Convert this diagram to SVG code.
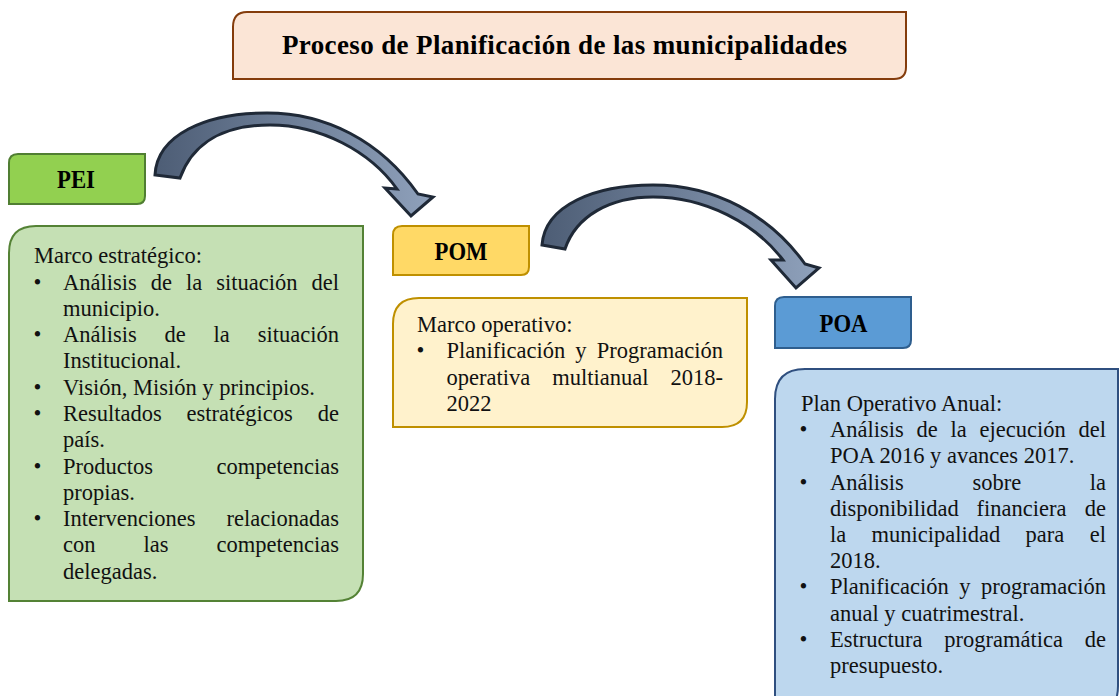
<svg xmlns="http://www.w3.org/2000/svg" width="1119" height="696" viewBox="0 0 1119 696">
<defs>
<style>
.b{font-family:"Liberation Serif","Times New Roman",serif;font-size:22.5px;fill:#111}
.h{font-family:"Liberation Serif","Times New Roman",serif;font-weight:bold;fill:#000}
.e{text-anchor:end}
.arrow{stroke:#1f2937;stroke-width:3;stroke-linejoin:miter}
</style>
<linearGradient id="ag1" gradientUnits="userSpaceOnUse" x1="155" y1="0" x2="432" y2="0">
<stop offset="0" stop-color="#4d5d75"/><stop offset="1" stop-color="#8fa1bb"/>
</linearGradient>
<linearGradient id="ag2" gradientUnits="userSpaceOnUse" x1="542" y1="0" x2="818" y2="0">
<stop offset="0" stop-color="#4d5d75"/><stop offset="1" stop-color="#8fa1bb"/>
</linearGradient>
</defs>
<rect width="1119" height="696" fill="#fff"/>

<g id="title">
<path d="M247,12 H906 V67 Q906,79 894,79 H233 V27 Q233,12 247,12 Z" fill="#FBE5D6" stroke="#843C0C" stroke-width="2"/>
<text class="h" x="282" y="54" font-size="27" textLength="565" lengthAdjust="spacing">Proceso de Planificación de las municipalidades</text>
</g>

<g id="connectors">
<path class="arrow" fill="url(#ag1)" d="M155,175 C157,135 205,113 267,113 C325,113 380,140 418,194 L433,197 L411,216 L385,188 L397,189 C370,151 320,125 270,125 C225,125 193,142 180,178 Z"/>
<path class="arrow" fill="url(#ag2)" d="M542,245 C545,205 595,185 653,185 C715,185 770,215 805,264 L819,268 L796,288 L771,260 L783,260 C755,223 705,197 653,197 C610,197 576,216 565,249 Z"/>
</g>

<g id="pei">
<path d="M18,154 H145 V196 Q145,204 137,204 H9 V163 Q9,154 18,154 Z" fill="#92D050" stroke="#507E32" stroke-width="2"/>
<text class="h" x="57" y="188" font-size="25" textLength="38" lengthAdjust="spacingAndGlyphs">PEI</text>
</g>

<g id="pei-content">
<path d="M36,226 H363 V574 Q363,601 336,601 H9 V253 Q9,226 36,226 Z" fill="#C5E0B4" stroke="#548235" stroke-width="2"/>
<text class="b" x="34" y="263">Marco estratégico:</text>
<text class="b" y="289.5"><tspan x="33.5">•</tspan><tspan x="63">Análisis</tspan><tspan x="150.8">de</tspan><tspan x="186">la</tspan><tspan x="216.2">situación</tspan><tspan x="339" class="e">del</tspan></text>
<text class="b" x="63" y="315.8">municipio.</text>
<text class="b" y="342"><tspan x="33.5">•</tspan><tspan x="63">Análisis</tspan><tspan x="164.6">de</tspan><tspan x="213.6">la</tspan><tspan x="339" class="e">situación</tspan></text>
<text class="b" x="63" y="368.3">Institucional.</text>
<text class="b" y="394.6"><tspan x="33.5">•</tspan><tspan x="63">Visión, Misión y principios.</tspan></text>
<text class="b" y="420.9"><tspan x="33.5">•</tspan><tspan x="63">Resultados</tspan><tspan x="186.6">estratégicos</tspan><tspan x="339" class="e">de</tspan></text>
<text class="b" x="63" y="447.2">país.</text>
<text class="b" y="473.5"><tspan x="33.5">•</tspan><tspan x="63">Productos</tspan><tspan x="339" class="e">competencias</tspan></text>
<text class="b" x="63" y="499.8">propias.</text>
<text class="b" y="526.1"><tspan x="33.5">•</tspan><tspan x="63">Intervenciones</tspan><tspan x="339" class="e">relacionadas</tspan></text>
<text class="b" y="552.4"><tspan x="63">con</tspan><tspan x="143.5">las</tspan><tspan x="339" class="e">competencias</tspan></text>
<text class="b" x="63" y="578.7">delegadas.</text>
</g>

<g id="pom">
<path d="M402,226 H529 V267 Q529,275 521,275 H393 V235 Q393,226 402,226 Z" fill="#FFD966" stroke="#BF9000" stroke-width="2"/>
<text class="h" x="434.5" y="260" font-size="25" textLength="53" lengthAdjust="spacingAndGlyphs">POM</text>
</g>

<g id="pom-content">
<path d="M419,298 H747 V402 Q747,427 722,427 H393 V324 Q393,298 419,298 Z" fill="#FFF2CC" stroke="#BF9000" stroke-width="2"/>
<text class="b" x="417" y="332">Marco operativo:</text>
<text class="b" y="358.4"><tspan x="416.5">•</tspan><tspan x="446.5">Planificación</tspan><tspan x="575.3">y</tspan><tspan x="723" class="e">Programación</tspan></text>
<text class="b" y="384.7"><tspan x="446.5">operativa</tspan><tspan x="552.2">multianual</tspan><tspan x="723" class="e">2018-</tspan></text>
<text class="b" x="446.5" y="411">2022</text>
</g>

<g id="poa">
<path d="M784,297 H911 V340 Q911,348 903,348 H775 V306 Q775,297 784,297 Z" fill="#5B9BD5" stroke="#2E5E8E" stroke-width="2"/>
<text class="h" x="819.5" y="332" font-size="25" textLength="48" lengthAdjust="spacingAndGlyphs">POA</text>
</g>

<g id="poa-content">
<path d="M805,369 H1118 V686 Q1118,716 1088,716 H775 V399 Q775,369 805,369 Z" fill="#BDD7EE" stroke="#2F4F7F" stroke-width="2"/>
<text class="b" x="801" y="411">Plan Operativo Anual:</text>
<text class="b" y="437.2"><tspan x="799.5">•</tspan><tspan x="830">Análisis</tspan><tspan x="916.5">de</tspan><tspan x="950.5">la</tspan><tspan x="979.5">ejecución</tspan><tspan x="1106" class="e">del</tspan></text>
<text class="b" x="830" y="463.4">POA 2016 y avances 2017.</text>
<text class="b" y="489.6"><tspan x="799.5">•</tspan><tspan x="830">Análisis</tspan><tspan x="972.4">sobre</tspan><tspan x="1106" class="e">la</tspan></text>
<text class="b" y="515.8"><tspan x="830">disponibilidad</tspan><tspan x="976.6">financiera</tspan><tspan x="1106" class="e">de</tspan></text>
<text class="b" y="542"><tspan x="830">la</tspan><tspan x="871.5">municipalidad</tspan><tspan x="1025.6">para</tspan><tspan x="1106" class="e">el</tspan></text>
<text class="b" x="830" y="568.2">2018.</text>
<text class="b" y="594.4"><tspan x="799.5">•</tspan><tspan x="830">Planificación</tspan><tspan x="959.2">y</tspan><tspan x="1106" class="e">programación</tspan></text>
<text class="b" x="830" y="620.6">anual y cuatrimestral.</text>
<text class="b" y="646.8"><tspan x="799.5">•</tspan><tspan x="830">Estructura</tspan><tspan x="944.3">programática</tspan><tspan x="1106" class="e">de</tspan></text>
<text class="b" x="830" y="673">presupuesto.</text>
</g>
</svg>
